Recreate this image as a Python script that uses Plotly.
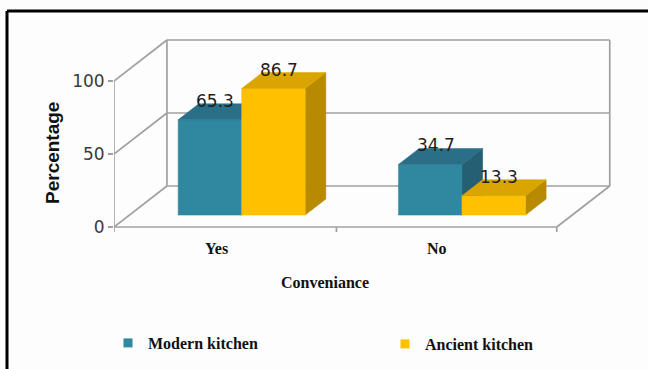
import plotly.graph_objects as go

# ---------------- data ----------------
categories = ["Yes", "No"]
series_names = ["Modern kitchen", "Ancient kitchen"]
modern_values = [65.3, 34.7]
ancient_values = [86.7, 13.3]
y_tick_values = [0, 50, 100]
y_title = "Percentage"
x_title = "Conveniance"

# ---------------- geometry / style ----------------
W_FIG, H_FIG = 648, 369
L_PX, R_PX, T_PX, B_PX = 114, 648, 0, 369
CAT0_PX, PX_PER_CAT = 226.3, 220.3
Y0_PX, PX_PER_UNIT = 227, 1.46

DXC = 53 / PX_PER_CAT        # full depth, x offset (category units)
DYV = 41 / PX_PER_UNIT       # full depth, y offset (value units)
D0, D1 = 0.29, 0.68          # bar depth slot
BAR_W = 63.5 / PX_PER_CAT
X_LEFT, X_RIGHT = -0.51, 1.5
Y_TOP = 100

xr = [(L_PX - CAT0_PX) / PX_PER_CAT, (R_PX - CAT0_PX) / PX_PER_CAT]
yr = [(Y0_PX - B_PX) / PX_PER_UNIT, (Y0_PX - T_PX) / PX_PER_UNIT]

front_cols = ["#2f87a0", "#ffc000"]
top_cols = ["#2a6f87", "#dba500"]
side_cols = ["#245f74", "#b88a00"]
wall_col = "#a0a0a0"
SANS = "DejaVu Sans, Verdana, Arial"
SANS_B = "Liberation Sans, Arial"
SERIF = "Liberation Serif, Times New Roman"


def proj(x, v, d):
    return x + d * DXC, v + d * DYV


def px_to_paper_x(px):
    return (px - L_PX) / (R_PX - L_PX)


def px_to_paper_y(py):
    return (B_PX - py) / (B_PX - T_PX)


fig = go.Figure()

# ---------------- walls / floor ----------------
wx, wy = [], []


def seg(p, q):
    wx.extend([p[0], q[0], None])
    wy.extend([p[1], q[1], None])


for v in y_tick_values:
    seg(proj(X_LEFT, v, 0), proj(X_LEFT, v, 1))          # left wall lines
    seg(proj(X_LEFT, v, 1), proj(X_RIGHT, v, 1))         # back wall lines
seg(proj(X_LEFT, 0, 0), proj(X_LEFT, Y_TOP, 0))          # front axis
seg(proj(X_LEFT, 0, 1), proj(X_LEFT, Y_TOP, 1))          # back-left edge
seg(proj(X_RIGHT, 0, 1), proj(X_RIGHT, Y_TOP, 1))        # back-right edge
seg(proj(X_LEFT, 0, 0), proj(X_RIGHT, 0, 0))             # floor front
seg(proj(X_RIGHT, 0, 0), proj(X_RIGHT, 0, 1))            # floor right
tick_len = 5 / PX_PER_UNIT
for xt in [X_LEFT, 0.5, X_RIGHT]:
    seg((xt, 0), (xt, -tick_len))

fig.add_trace(go.Scatter(x=wx, y=wy, mode="lines", line=dict(color=wall_col, width=1.7),
                         hoverinfo="skip", showlegend=False, cliponaxis=False))

# ---------------- bars ----------------
def poly(pts, color):
    xs = [p[0] for p in pts] + [pts[0][0]]
    ys = [p[1] for p in pts] + [pts[0][1]]
    fig.add_trace(go.Scatter(x=xs, y=ys, mode="lines", fill="toself", fillcolor=color,
                             line=dict(width=0.5, color=color), hoverinfo="skip",
                             showlegend=False))


annotations = []
series_vals = [modern_values, ancient_values]
for ci, cat in enumerate(categories):
    for si, vals in enumerate(series_vals):
        v = vals[ci]
        x0 = ci - BAR_W + si * BAR_W
        x1 = x0 + BAR_W
        front = [proj(x0, 0, D0), proj(x1, 0, D0), proj(x1, v, D0), proj(x0, v, D0)]
        top = [proj(x0, v, D0), proj(x1, v, D0), proj(x1, v, D1), proj(x0, v, D1)]
        side = [proj(x1, 0, D0), proj(x1, 0, D1), proj(x1, v, D1), proj(x1, v, D0)]
        poly(side, side_cols[si])
        poly(front, front_cols[si])
        poly(top, top_cols[si])
        lx, ly = proj((x0 + x1) / 2, v, (D0 + D1) / 2)
        annotations.append(dict(x=lx, y=ly, xref="x", yref="y", text=f"{v}", showarrow=False,
                                xanchor="center", yanchor="middle", xshift=-5, yshift=11,
                                font=dict(family=SANS, size=17, color="#1e1e1e")))

# legend entries (two legends so they can sit far apart)
legend_keys = ["legend", "legend2"]
for si, name in enumerate(series_names):
    fig.add_trace(go.Scatter(x=[None], y=[None], mode="markers", name=name,
                             legend=legend_keys[si],
                             marker=dict(symbol="square", size=9, color=front_cols[si])))

# category labels
for ci, cat in enumerate(categories):
    annotations.append(dict(x=ci - 0.045, y=px_to_paper_y(248), xref="x", yref="paper", text=cat,
                            showarrow=False, xanchor="center", yanchor="middle",
                            font=dict(family=SERIF, size=16, color="#111111", weight="bold")))

annotations.append(dict(x=px_to_paper_x(325), y=px_to_paper_y(282), xref="paper", yref="paper",
                        text=x_title, showarrow=False, xanchor="center", yanchor="middle",
                        font=dict(family=SERIF, size=16, color="#111111", weight="bold")))
annotations.append(dict(x=px_to_paper_x(52), y=px_to_paper_y(153), xref="paper", yref="paper",
                        text=y_title, showarrow=False, textangle=-90,
                        xanchor="center", yanchor="middle",
                        font=dict(family=SANS_B, size=19, color="#111111", weight="bold")))

# border (top & left edges of an outer frame)
shapes = [
    dict(type="line", xref="paper", yref="paper",
         x0=px_to_paper_x(7), y0=px_to_paper_y(11), x1=px_to_paper_x(700), y1=px_to_paper_y(11),
         line=dict(color="black", width=3)),
    dict(type="line", xref="paper", yref="paper",
         x0=px_to_paper_x(7), y0=px_to_paper_y(11), x1=px_to_paper_x(7), y1=px_to_paper_y(420),
         line=dict(color="black", width=3)),
]

legend_font = dict(family=SERIF, size=16, color="#111111", weight="bold")
fig.update_layout(
    width=W_FIG, height=H_FIG,
    margin=dict(l=L_PX, r=W_FIG - R_PX, t=T_PX, b=H_FIG - B_PX),
    paper_bgcolor="#fdfdfd", plot_bgcolor="rgba(0,0,0,0)",
    xaxis=dict(range=xr, visible=False, fixedrange=True),
    yaxis=dict(range=yr, tickvals=y_tick_values, ticks="outside", ticklen=5, tickwidth=1.5,
               tickcolor=wall_col, showgrid=False, zeroline=False, showline=False,
               tickfont=dict(family=SANS, size=17, color="#3a3a3a"),
               fixedrange=True),
    showlegend=True,
    legend=dict(x=px_to_paper_x(108), y=px_to_paper_y(343), yanchor="middle", xanchor="left",
                font=legend_font, bgcolor="rgba(0,0,0,0)"),
    legend2=dict(x=px_to_paper_x(385), y=px_to_paper_y(344), yanchor="middle", xanchor="left",
                 font=legend_font, bgcolor="rgba(0,0,0,0)"),
    annotations=annotations,
    shapes=shapes,
)

fig.write_html("out.html")
